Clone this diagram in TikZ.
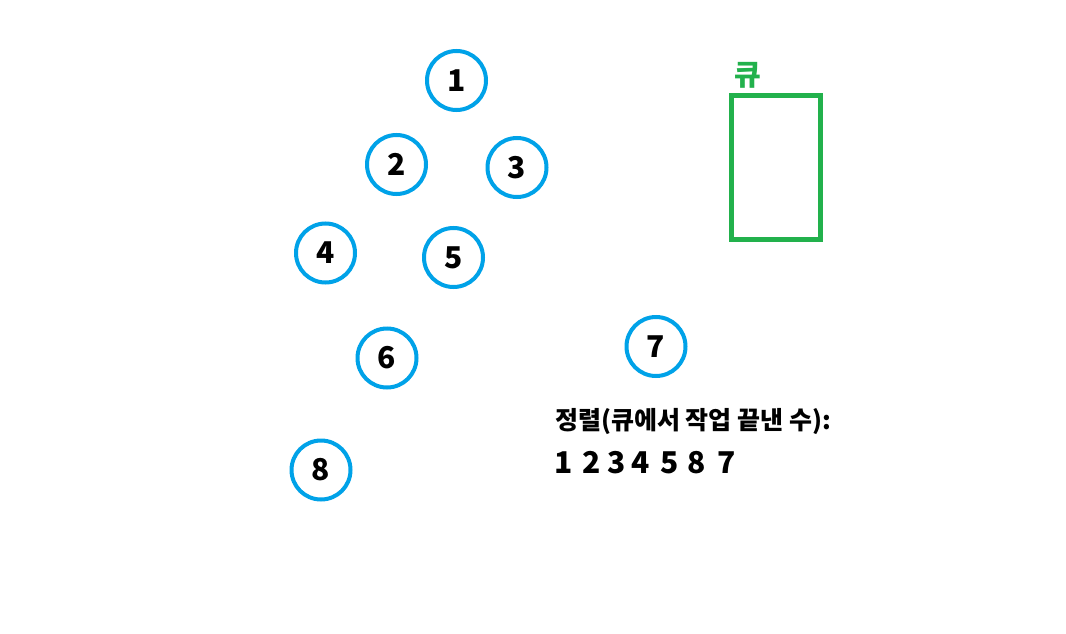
\documentclass[tikz,border=0pt]{standalone}
\usepackage{fontspec}
\newfontfamily\kr{Noto Sans CJK KR}
\definecolor{nodeblue}{RGB}{0,162,232}
\definecolor{qgreen}{RGB}{34,177,76}
\begin{document}
\begin{tikzpicture}[x=1pt,y=-1pt,
  vtx/.style={circle,draw=nodeblue,line width=4pt,minimum size=59pt,inner sep=0pt,
    font=\kr\bfseries\fontsize{30}{32}\selectfont},
  qbox/.style={draw=qgreen,line width=5pt},
  lbl/.style={font=\kr\bfseries\fontsize{25}{28}\selectfont,inner sep=0pt}]
\useasboundingbox (0,0) rectangle (1066,634);
\fill[white] (0,0) rectangle (1066,634);
\node[vtx] (n1) at (456.5,80.5) {1};
\node[vtx] (n2) at (396.5,164.5) {2};
\node[vtx] (n3) at (517,167.5) {3};
\node[vtx] (n4) at (325.5,253) {4};
\node[vtx] (n5) at (453.5,257.5) {5};
\node[vtx] (n6) at (387,358) {6};
\node[vtx] (n7) at (656,346.5) {7};
\node[vtx] (n8) at (321,470) {8};
\draw[qbox] (731.5,95.5) rectangle (820.5,239.5);
\node[lbl,text=qgreen,font=\kr\bfseries\fontsize{29}{30}\selectfont] (qlabel) at (748,75) {큐};
\node[lbl,anchor=west] (sortlabel) at (555,421) {정렬(큐에서 작업 끝낸 수):};
\node[lbl,anchor=west,font=\kr\bfseries\fontsize{30}{32}\selectfont] (order) at (554,463)
  {1\hspace{10pt}2\hspace{6.5pt}3\hspace{6.5pt}4\hspace{10pt}5\hspace{9pt}8\hspace{12pt}7};
\end{tikzpicture}
\end{document}
